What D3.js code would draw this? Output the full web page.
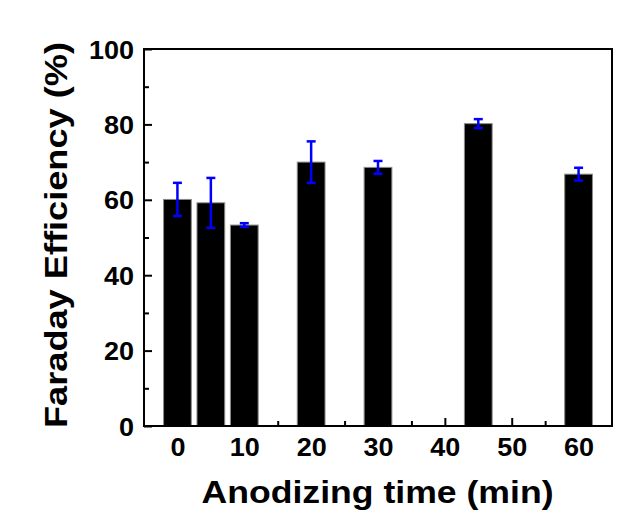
<!DOCTYPE html>
<html>
<head>
<meta charset="utf-8">
<script src="https://cdn.jsdelivr.net/npm/d3@7"></script>
<style>
html,body{margin:0;padding:0;background:#fff;}
svg text{font-family:Arial,"Liberation Sans",sans-serif;font-weight:bold;fill:#000;}
</style>
</head>
<body>
<svg id="chart" width="623" height="513"></svg>
<script>
const times = [0, 5, 10, 20, 30, 45, 60];
const efficiency = [60.1, 59.2, 53.3, 70.0, 68.6, 80.2, 66.8];
const errors = [4.4, 6.6, 0.5, 5.5, 1.7, 1.2, 1.7];
const xTicks = [0, 10, 20, 30, 40, 50, 60];
const xMinor = [5, 15, 25, 35, 45, 55];
const yTicks = [0, 20, 40, 60, 80, 100];
const yMinor = [10, 30, 50, 70, 90];
const xTitle = "Anodizing time (min)";
const yTitle = "Faraday Efficiency (%)";

const svg = d3.select("#chart");
const L = 144, R = 612, T = 49, B = 426;
const x = d3.scaleLinear().domain([-5, 65]).range([L, R]);
const y = d3.scaleLinear().domain([0, 100]).range([B, T]);
const barW = 4.15;

function stretch(sel, f){
  sel.each(function(){
    const w = this.getComputedTextLength();
    d3.select(this).attr("textLength", w*f).attr("lengthAdjust","spacingAndGlyphs");
  });
}

// bars
svg.append("g").selectAll("rect").data(times).join("rect")
  .attr("x", d => x(d - barW/2))
  .attr("width", d => x(d + barW/2) - x(d - barW/2))
  .attr("y", (d,i) => y(efficiency[i]))
  .attr("height", (d,i) => y(0) - y(efficiency[i]))
  .attr("fill", "#000")
  .attr("stroke", "#8a8a8a")
  .attr("stroke-width", 1);

// error bars
const eg = svg.append("g").attr("stroke", "#0000ff").attr("stroke-width", 2.5).attr("fill","none");
times.forEach((t, i) => {
  const cx = x(t), top = y(efficiency[i] + errors[i]), bot = y(efficiency[i] - errors[i]);
  eg.append("line").attr("x1", cx).attr("x2", cx).attr("y1", top).attr("y2", bot);
  eg.append("line").attr("x1", cx-4.5).attr("x2", cx+4.5).attr("y1", top).attr("y2", top);
  eg.append("line").attr("x1", cx-4.5).attr("x2", cx+4.5).attr("y1", bot).attr("y2", bot);
});

// axes (ticks inward)
const xAxis = svg.append("g").attr("transform", `translate(0,${B})`)
  .call(d3.axisBottom(x).tickValues(xTicks).tickSize(-8).tickPadding(10).tickFormat(d3.format("d")));
const xAxisMinor = svg.append("g").attr("transform", `translate(0,${B})`)
  .call(d3.axisBottom(x).tickValues(xMinor).tickSize(-5).tickFormat(""));
const yAxis = svg.append("g").attr("transform", `translate(${L},0)`)
  .call(d3.axisLeft(y).tickValues(yTicks).tickSize(-8).tickPadding(10).tickFormat(d3.format("d")));
const yAxisMinor = svg.append("g").attr("transform", `translate(${L},0)`)
  .call(d3.axisLeft(y).tickValues(yMinor).tickSize(-5).tickFormat(""));

[xAxis, xAxisMinor, yAxis, yAxisMinor].forEach(g => {
  g.select(".domain").remove();
  g.selectAll(".tick line").attr("stroke", "#000").attr("stroke-width", 2);
});
xAxis.selectAll(".tick text").attr("font-size", 25).attr("dy", null).attr("y", 30);
yAxis.selectAll(".tick text").attr("font-size", 25).attr("x", -10).attr("dy", "0.36em");
stretch(xAxis.selectAll(".tick text"), 1.08);
stretch(yAxis.selectAll(".tick text"), 1.08);

// frame
svg.append("rect").attr("x", L).attr("y", T).attr("width", R-L).attr("height", B-T)
  .attr("fill", "none").attr("stroke", "#000").attr("stroke-width", 2);

// titles
const xt = svg.append("text").attr("x", 377.5).attr("y", 503)
  .attr("text-anchor", "middle").attr("font-size", 32).text(xTitle)
  .attr("textLength", 352).attr("lengthAdjust","spacingAndGlyphs");

const yt = svg.append("text").attr("transform", "translate(67,235) rotate(-90)")
  .attr("text-anchor", "middle").attr("font-size", 31).text(yTitle)
  .attr("textLength", 386).attr("lengthAdjust","spacingAndGlyphs");
</script>
</body>
</html>
